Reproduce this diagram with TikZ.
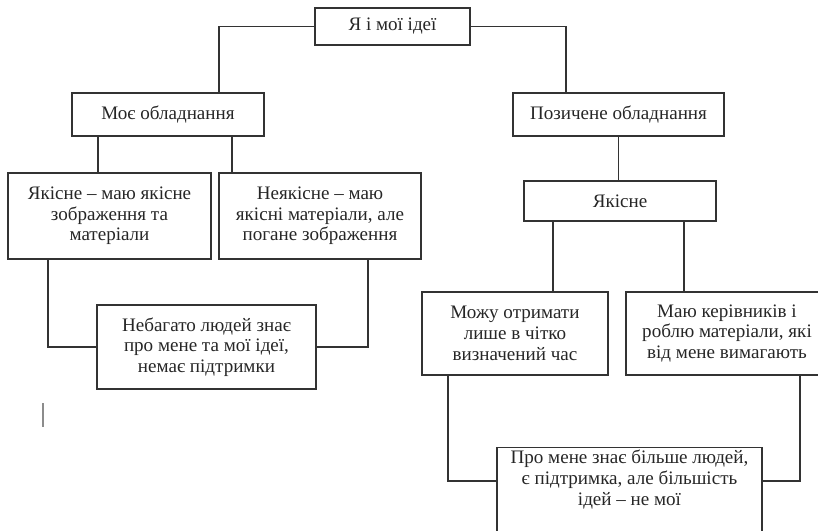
\documentclass[tikz,border=0pt]{standalone}
\usepackage{fontspec}
\setmainfont{Liberation Serif}
\newcommand\px{0.75pt}
\tikzset{
  box/.style={draw=black!80, line width=0.9pt, align=center, inner sep=0pt,
    text=black!85, font=\fontsize{14.3}{15.5}\selectfont},
  link/.style={draw=black!80, line width=0.9pt},
}
\begin{document}
\begin{tikzpicture}[x=\px, y=-\px]
  % canvas
  \path[use as bounding box, clip] (0,0) rectangle (818,531);
  % top level
  \node[box, minimum width=155*\px, minimum height=37*\px] (ideas) at (392.5,26.5) {Я і мої ідеї};
  % second level
  \node[box, minimum width=192*\px, minimum height=43*\px] (own) at (168,114.5) {Моє обладнання};
  \node[box, minimum width=211*\px, minimum height=43*\px] (borrowed) at (618.5,114.5) {Позичене обладнання};
  % own equipment
  \node[box, minimum width=203*\px, minimum height=86*\px] (ownGood) at (109.5,216) {Якісне – маю якісне\\зображення та\\матеріали};
  \node[box, minimum width=202*\px, minimum height=86*\px] (ownBad) at (320,216) {Неякісне – маю\\якісні матеріали, але\\погане зображення};
  \node[box, minimum width=219*\px, minimum height=84*\px] (ownResult) at (206.5,347) {Небагато людей знає\\про мене та мої ідеї,\\немає підтримки};
  % borrowed equipment
  \node[box, minimum width=192*\px, minimum height=40*\px] (borGood) at (620,201) {Якісне};
  \node[box, minimum width=186*\px, minimum height=83*\px] (borTime) at (515,333.5) {Можу отримати\\лише в чітко\\визначений час};
  \node[box, minimum width=202*\px, minimum height=83*\px] (borBoss) at (727,333.5) {Маю керівників і\\роблю матеріали, які\\від мене вимагають};
  \node[box, anchor=north, minimum width=265*\px, minimum height=90.5*\px] (borResult) at (629.5,447)
    {Про мене знає більше людей,\\є підтримка, але більшість\\ідей – не мої\\[10*\px]\mbox{}};
  % connectors
  \draw[link] (ideas.west) -| ([xshift=51*\px]own.north);
  \draw[link] (ideas.east) -| ([xshift=-52.5*\px]borrowed.north);
  \foreach \dx in {-70,64}
    \draw[link] ([xshift=\dx*\px]own.south) coordinate (s) -- (s |- ownGood.north);
  \draw[link] (borrowed.south) -- (borrowed.south |- borGood.north);
  \foreach \dx in {-67,64}
    \draw[link] ([xshift=\dx*\px]borGood.south) coordinate (s) -- (s |- borTime.north);
  \draw[link] ([xshift=-61.5*\px]ownGood.south) |- (ownResult.west);
  \draw[link] ([xshift=48*\px]ownBad.south) |- (ownResult.east);
  \draw[link] ([xshift=-67*\px]borTime.south) |- ([yshift=-34*\px]borResult.north west);
  \draw[link] ([xshift=73*\px]borBoss.south) |- ([yshift=-34*\px]borResult.north east);
  % stray mark
  \draw[black!45, line width=1.4pt] (43,403) -- (43,427);
\end{tikzpicture}
\end{document}
